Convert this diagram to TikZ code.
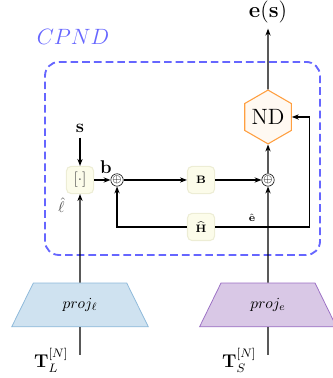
\documentclass[tikz,border=0pt]{standalone}
\usepackage{amsmath}
\usepackage{tikz}
\usetikzlibrary{arrows.meta,positioning,shapes.geometric,calc}
\usepackage{xcolor}
\definecolor{cpndblue}{HTML}{6666FF}
\definecolor{opfill}{HTML}{FCFCEA}
\definecolor{opdraw}{HTML}{EDEDD5}
\definecolor{projlfill}{HTML}{CFE2F0}
\definecolor{projldraw}{HTML}{8DB9DA}
\definecolor{projefill}{HTML}{D9C8E6}
\definecolor{projedraw}{HTML}{9B6FC4}

\begin{document}
\begin{tikzpicture}[
  >={Stealth[length=4.5pt,width=3.4pt]},
  line width=0.7pt,
  opbox/.style={
    draw=opdraw,
    fill=opfill,
    rounded corners=3pt,
    minimum size=0.62cm,
    inner sep=1pt
  },
  sumnode/.style={
    circle,
    draw,
    line width=0.4pt,
    inner sep=0pt,
    minimum size=0.27cm,
    font=\scriptsize
  },
  projbox/.style={
    trapezium,
    trapezium left angle=66,
    trapezium right angle=66,
    trapezium stretches=true,
    minimum width=3.13cm,
    minimum height=1.0cm,
    line width=0.5pt
  },
  ndhex/.style={
    regular polygon,
    regular polygon sides=6,
    shape border rotate=90,
    minimum size=1.23cm,
    inner sep=0pt,
    draw=orange!75,
    fill=orange!5,
    font=\Large
  }
]
  \useasboundingbox (0,0) rectangle (7.59,8.64);

  % ----------------------------------------------------
  % CPND BLOCK
  % ----------------------------------------------------
  \draw[cpndblue, line width=1.2pt, dash pattern=on 5pt off 2.6pt, rounded corners=9pt]
    (1.029, 2.812) rectangle (7.315, 7.224);
  \node[text=cpndblue, font=\Large] (cpnd_lbl) at (1.669, 7.795) {$CPND$};

  \node[ndhex] (nd) at (6.126, 5.966) {ND};
  \node[font=\Large] (out_lbl) at (6.126, 8.367) {$\mathbf{e}(\mathbf{s})$};

  \node[font=\large] (s_lbl) at (1.829, 5.715) {$\mathbf{s}$};
  \node[opbox, text=black!70] (ctx) at (1.829, 4.526) {$[\cdot]$};
  \node[sumnode] (sum_b) at (2.675, 4.526) {$\oplus$};
  \node[opbox, font=\scriptsize] (bmat) at (4.595, 4.526) {$\mathbf{B}$};
  \node[sumnode] (sum_e) at (6.126, 4.526) {$\oplus$};
  \node[opbox, font=\scriptsize] (hmat) at (4.595, 3.452) {$\widehat{\mathbf{H}}$};

  \node[font=\large] (b_lbl) at (2.423, 4.823) {$\mathbf{b}$};
  \node[text=black!70, inner sep=0.5pt] (l_lbl) at (1.40, 3.95) {$\hat{\ell}$};
  \node[font=\scriptsize] (e_lbl) at (5.761, 3.658) {$\hat{\mathbf{e}}$};
  \coordinate (loop_c) at (7.064, 3.452);

  % ----------------------------------------------------
  % INPUT PROJECTIONS
  % ----------------------------------------------------
  \node[projbox, draw=projldraw, fill=projlfill] (projl) at (1.829, 1.669) {$proj_{\ell}$};
  \node[projbox, draw=projedraw, fill=projefill] (proje) at (6.126, 1.669) {$proj_{e}$};

  \coordinate (tl_in) at (1.829, 0.526);
  \coordinate (ts_in) at (6.126, 0.526);
  \node[font=\large] (tl_lbl) at (1.17, 0.40) {$\mathbf{T}_L^{[N]}$};
  \node[font=\large] (ts_lbl) at (5.47, 0.40) {$\mathbf{T}_S^{[N]}$};

  % Connectors
  \draw (tl_in) -- (projl.south);
  \draw (ts_in) -- (proje.south);
  \draw[->] (projl.north) -- (ctx.south);
  \draw[->] (proje.north) -- (sum_e.south);

  \draw[->] (s_lbl.south) -- (ctx.north);
  \draw[->] (ctx.east) -- (sum_b.west);
  \draw[->] (sum_b.east) -- (bmat.west);
  \draw[->] (bmat.east) -- (sum_e.west);
  \draw[->] (sum_e.north) -- (nd.south);
  \draw[->] (nd.north) -- (out_lbl.south);

  \draw[->] (hmat.west) -| (sum_b.south);
  \draw[->] (hmat.east) -- (loop_c) |- (nd.east);

\end{tikzpicture}
\end{document}
